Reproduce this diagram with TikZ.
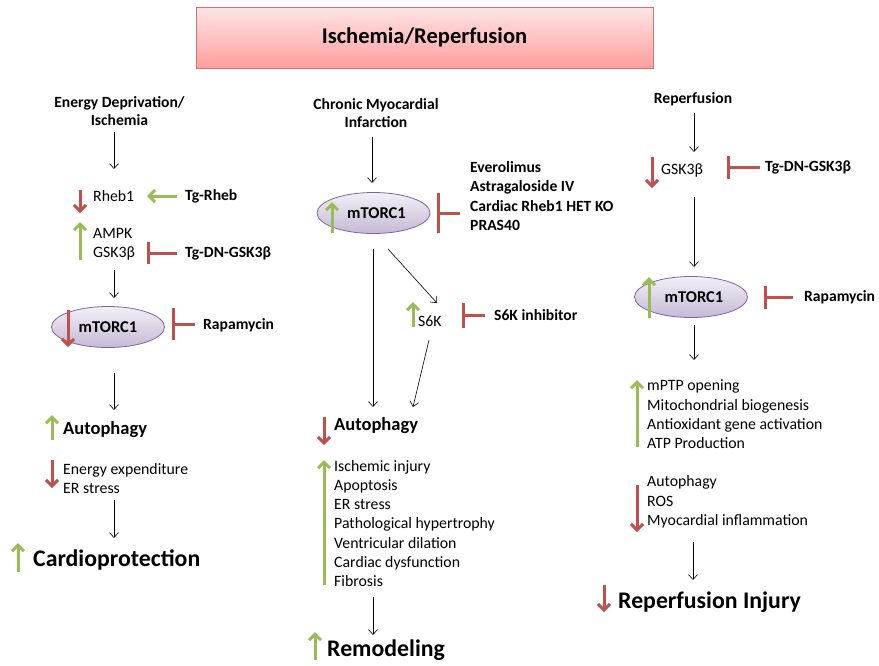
\documentclass[tikz,border=0pt]{standalone}
\usepackage{fontspec}
\setmainfont{Carlito}
\usetikzlibrary{arrows.meta,shapes.geometric}

\definecolor{irgreen}{HTML}{9BBB59}
\definecolor{irred}{HTML}{C0504D}
\definecolor{irpurple}{HTML}{8064A2}
\definecolor{titleline}{HTML}{D27272}

\tikzset{
	plain/.style={font=\fontsize{15.8}{19.3}\selectfont, inner sep=0pt, anchor=west, align=left},
	head/.style={font=\bfseries\fontsize{15.6}{18.5}\selectfont, inner sep=0pt, align=center},
	drug/.style={font=\bfseries\fontsize{15.6}{19.3}\selectfont, inner sep=0pt, anchor=west, align=left},
	midtxt/.style={font=\bfseries\fontsize{18.5}{22}\selectfont, inner sep=0pt, anchor=west},
	bigtxt/.style={font=\bfseries\fontsize{23.8}{28}\selectfont, inner sep=0pt, anchor=west},
	mtor/.style={ellipse, draw=irpurple, line width=0.8pt, top color=irpurple!10, bottom color=irpurple!45,
		minimum width=113pt, minimum height=41pt, inner sep=0pt, font=\bfseries\fontsize{16.5}{18}\selectfont},
	flow/.style={-{Straight Barb[length=5pt,width=9pt]}, line width=0.6pt},
	upmark/.style={draw=irgreen, line width=3pt, -{Straight Barb[length=6pt,width=12pt]}},
	downmark/.style={draw=irred, line width=3pt, -{Straight Barb[length=6pt,width=12pt]}},
	inhib/.style={draw=irred, line width=3pt, -{Bar[width=#1]}},
}

\begin{document}
\begin{tikzpicture}[x=1pt, y=-1pt]
	\useasboundingbox (0,0) rectangle (879,665);

	% title
	\node[draw=titleline, line width=1pt, top color=red!10, bottom color=red!38, minimum width=457pt, minimum height=61pt,
		font=\bfseries\fontsize{22.5}{26}\selectfont] (title) at (424.5,37.5) {Ischemia/Reperfusion};

	% left column
	\node[head] (edi)   at (119.5,111) {Energy Deprivation/\\Ischemia};
	\node[plain] (rheb) at (93,196)  {Rheb1};
	\node[drug]  (tgr)  at (185,196) {Tg-Rheb};
	\node[plain] (ampk) at (93,244)  {AMPK\\GSK3β};
	\node[drug]  (tgd1) at (185,253) {Tg-DN-GSK3β};
	\node[mtor]  (mt1)  at (108,327) {mTORC1};
	\node[drug]  (rap1) at (203,325) {Rapamycin};
	\node[midtxt] (aut1) at (63,430) {Autophagy};
	\node[plain] (eex)  at (63,478.5) {Energy expenditure\\ER stress};
	\node[bigtxt] (cpr) at (33,560) {Cardioprotection};

	% middle column
	\node[head] (cmi)   at (376,113) {Chronic Myocardial\\Infarction};
	\node[mtor]  (mt2)  at (373.5,213) {\hspace*{6pt}mTORC1};
	\node[drug]  (drg)  at (470,196) {Everolimus\\Astragaloside IV\\Cardiac Rheb1 HET KO\\PRAS40};
	\node[plain] (s6k)  at (418,321) {S6K};
	\node[drug]  (s6i)  at (494,315) {S6K inhibitor};
	\node[midtxt] (aut2) at (334,426) {Autophagy};
	\node[plain] (isc)  at (334,523.5) {Ischemic injury\\Apoptosis\\ER stress\\Pathological hypertrophy\\Ventricular dilation\\Cardiac dysfunction\\Fibrosis};
	\node[bigtxt] (rem) at (327,650) {Remodeling};

	% right column
	\node[head] (rep)   at (693,99)  {Reperfusion};
	\node[plain] (gsk)  at (661,170) {GSK3β};
	\node[drug]  (tgd2) at (765,167) {Tg-DN-GSK3β};
	\node[mtor]  (mt3)  at (691,297) {\hspace*{6pt}mTORC1};
	\node[drug]  (rap3) at (804,297) {Rapamycin};
	\node[plain] (mpt)  at (647,414.5) {mPTP opening\\Mitochondrial biogenesis\\Antioxidant gene activation\\ATP Production};
	\node[plain] (ros)  at (647,502) {Autophagy\\ROS\\Myocardial inflammation};
	\node[bigtxt] (rpi) at (618,602) {Reperfusion Injury};

	% ends of the flow arrows
	\coordinate (l1a) at (114,132); \coordinate (l1b) at (114,169);
	\coordinate (l2a) at (114,270); \coordinate (l2b) at (114,298);
	\coordinate (l3a) at (114,373); \coordinate (l3b) at (114,410);
	\coordinate (l4a) at (114,500); \coordinate (l4b) at (114,538);
	\coordinate (m1a) at (372,137); \coordinate (m1b) at (372,183);
	\coordinate (m2a) at (373,249); \coordinate (m2b) at (373,407);
	\coordinate (m3a) at (388,249); \coordinate (m3b) at (437,303);
	\coordinate (m4a) at (429,340); \coordinate (m4b) at (413,407);
	\coordinate (m5a) at (373,597); \coordinate (m5b) at (373,635);
	\coordinate (r1a) at (694,113); \coordinate (r1b) at (694,152);
	\coordinate (r2a) at (694,197); \coordinate (r2b) at (694,267);
	\coordinate (r3a) at (694,325); \coordinate (r3b) at (694,360);
	\coordinate (r4a) at (693,542); \coordinate (r4b) at (693,580);

	\path (l1a) edge[flow] (l1b);
	\path (l2a) edge[flow] (l2b);
	\path (l3a) edge[flow] (l3b);
	\path (l4a) edge[flow] (l4b);
	\path (m1a) edge[flow] (m1b);
	\path (m2a) edge[flow] (m2b);
	\path (m3a) edge[flow] (m3b);
	\path (m4a) edge[flow] (m4b);
	\path (m5a) edge[flow] (m5b);
	\path (r1a) edge[flow] (r1b);
	\path (r2a) edge[flow] (r2b);
	\path (r3a) edge[flow] (r3b);
	\path (r4a) edge[flow] (r4b);

	% green activator
	\draw[upmark, shorten <=8pt] (tgr.west) -- (147,196);

	% inhibitor bars
	\coordinate (b1) at (147,253);
	\coordinate (b2) at (172,324);
	\coordinate (b3) at (437,213);
	\coordinate (b4) at (462,315);
	\coordinate (b5) at (727,167);
	\coordinate (b6) at (764,297);
	\draw[inhib=22pt, shorten <=8pt]  (tgd1.west) -- (b1);
	\draw[inhib=32pt, shorten <=8pt]  (rap1.west |- b2) -- (b2);
	\draw[inhib=40pt, shorten <=10pt] (drg.west |- b3) -- (b3);
	\draw[inhib=25pt, shorten <=9pt]  (s6i.west) -- (b4);
	\draw[inhib=23pt, shorten <=5pt]  (tgd2.west) -- (b5);
	\draw[inhib=23pt, shorten <=11pt] (rap3.west) -- (b6);

	% up and down marks
	\draw[downmark] (80,190) -- (80,213);
	\draw[upmark]   (80,260) -- (80,222);
	\draw[downmark] (68,310) -- (68,347);
	\draw[upmark]   (52,440) -- (52,415);
	\draw[downmark] (52,460) -- (52,488);
	\draw[upmark]   (18,572) -- (18,543);
	\draw[upmark]   (332,233) -- (332,202);
	\draw[upmark]   (413,327) -- (413,302);
	\draw[downmark] (324,417) -- (324,445);
	\draw[upmark]   (324,585) -- (324,460);
	\draw[upmark]   (315,660) -- (315,632);
	\draw[downmark] (652,157) -- (652,188);
	\draw[upmark]   (649,318) -- (649,277);
	\draw[upmark]   (637,447) -- (637,380);
	\draw[downmark] (637,485) -- (637,532);
	\draw[downmark] (604,585) -- (604,612);
\end{tikzpicture}
\end{document}
